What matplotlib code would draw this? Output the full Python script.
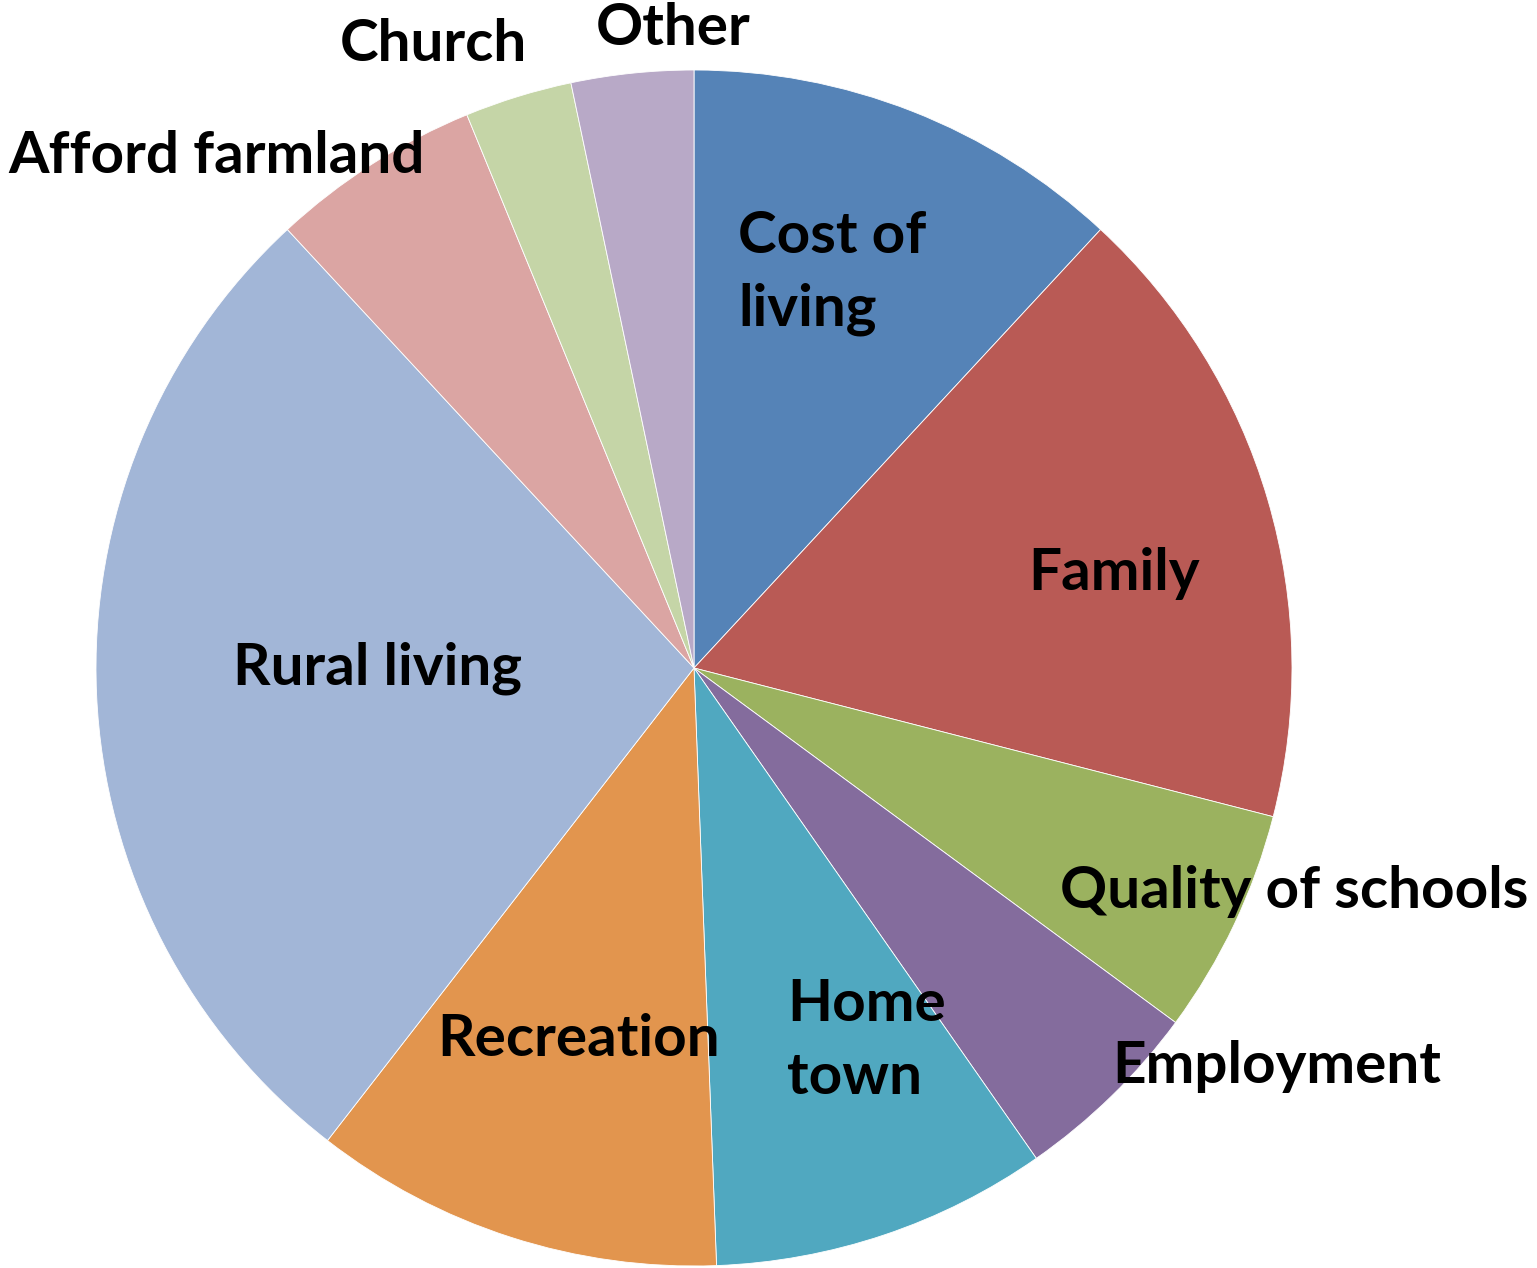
import numpy as np
import matplotlib.pyplot as plt

# slice labels and shares (%), clockwise from 12 o'clock
labels = ['Cost of\nliving', 'Family', 'Quality of schools', 'Employment',
          'Home\ntown', 'Recreation', 'Rural living', 'Afford farmland',
          'Church', 'Other']
shares = [11.9, 17.1, 6.1, 5.2, 9.1, 11.1, 27.6, 5.7, 2.9, 3.3]
colors = ['#5583B7', '#B95A55', '#9BB25F', '#846C9D', '#50A8C0',
          '#E2954E', '#A2B6D7', '#DBA5A3', '#C5D5A7', '#B8A9C7']

# where each label sits: distance from centre (in radii) and angle
# clockwise from top (degrees)
label_r = [0.70, 0.72, 1.07, 1.18, 0.687, 0.65, 0.53, 1.17, 1.13, 1.07]
label_ang = [19.3, 77.3, 110.4, 124.4, 155.2, 197.2, 270.0, 317.0, 337.3, 358.1]

fig = plt.figure(figsize=(15.37, 12.68), dpi=100)
ax = fig.add_axes([0, 0, 1, 1])

ax.pie(shares, colors=colors, startangle=90, counterclock=False,
       radius=1, wedgeprops=dict(edgecolor='white', linewidth=0.6))

for lab, r, a in zip(labels, label_r, label_ang):
    t = np.deg2rad(90 - a)
    ax.text(r * np.cos(t), r * np.sin(t), lab, ha='center', va='center',
            multialignment='left', linespacing=1.45, fontsize=42,
            fontweight='bold', family=['Lato', 'DejaVu Sans'], color='black')

# centre at (694, 668) px, radius 598 px
ax.set_xlim(-694 / 598, (1537 - 694) / 598)
ax.set_ylim(-(1268 - 668) / 598, 668 / 598)
ax.set_aspect('equal')
ax.axis('off')

fig.savefig('out.png', dpi=100, facecolor='white')
